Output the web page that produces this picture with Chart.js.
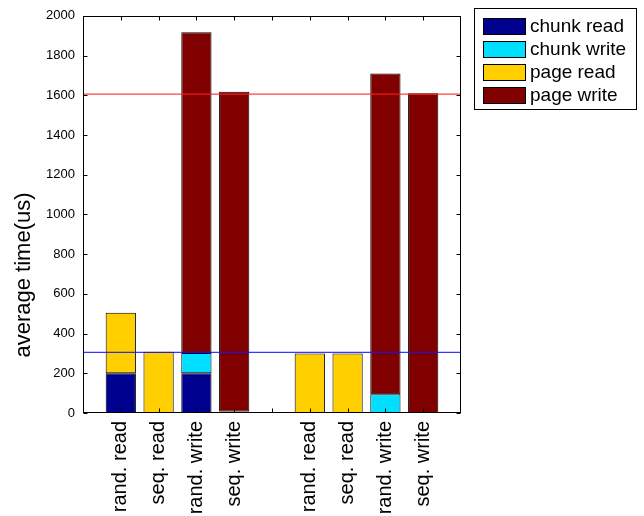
<!DOCTYPE html>
<html>
<head>
<meta charset="utf-8">
<script src="https://cdn.jsdelivr.net/npm/chart.js@4/dist/chart.umd.min.js"></script>
<style>
  html, body { margin: 0; padding: 0; background: #fff; }
  #wrap { width: 644px; height: 516px; }
</style>
</head>
<body>
<div id="wrap"><canvas id="c" width="644" height="516"></canvas></div>
<script>
// Access-pattern labels (the fifth slot is an empty spacer between the two groups)
const categories = ['rand. read', 'seq. read', 'rand. write', 'seq. write', '',
                    'rand. read', 'seq. read', 'rand. write', 'seq. write'];

// Average time per component, in microseconds (stacked bottom to top)
const chunkRead  = [200, null, 200,  4, null, null, null, null, null];
const chunkWrite = [null, null, 102, 3, null, null, null,  95, null];
const pageRead   = [305, 309, null, null, null, 300, 300, null, null];
const pageWrite  = [null, null, 1615, 1611, null, null, null, 1614, 1610];

// Horizontal reference levels
const pageWriteLevel = 1606;
const pageReadLevel = 305;

const seriesNames = ['chunk read', 'chunk write', 'page read', 'page write'];
const seriesColors = ['#00008F', '#00DFFF', '#FFCF00', '#800000'];
const seriesValues = [chunkRead, chunkWrite, pageRead, pageWrite];

const yTicks = [0, 200, 400, 600, 800, 1000, 1200, 1400, 1600, 1800, 2000];

const FONT = '"Liberation Sans", Arial, Helvetica, sans-serif';
Chart.defaults.color = '#000';
Chart.defaults.font.family = FONT;

const barSets = seriesValues.map((vals, s) => ({
  type: 'bar',
  label: seriesNames[s],
  data: vals.map((v, i) => ({ x: i + 1, y: v })),
  backgroundColor: seriesColors[s],
  borderColor: '#000',
  borderWidth: 1,
  borderSkipped: false,
  barPercentage: 0.8,
  categoryPercentage: 1.0,
  stack: 'time'
}));

const xMax = categories.length + 1;
const levelLine = (val, color, id) => ({
  type: 'line',
  label: id,
  data: [{ x: 0, y: val }, { x: xMax, y: val }],
  borderColor: color,
  borderWidth: 1.2,
  pointRadius: 0,
  fill: false,
  stack: id,
  order: -1
});

// Frame, inward tick marks, y-axis title and the boxed legend
const decor = {
  id: 'decor',
  afterDraw(chart) {
    const { ctx, chartArea: a, scales: { x, y } } = chart;
    ctx.save();
    ctx.strokeStyle = '#000';
    ctx.lineWidth = 1;
    ctx.beginPath();
    const L = Math.round(a.left) + 0.5, R = Math.round(a.right) - 0.5;
    const T = Math.round(a.top) + 0.5, B = Math.round(a.bottom) - 0.5;
    y.ticks.forEach(t => {
      const py = Math.round(y.getPixelForValue(t.value)) + 0.5;
      ctx.moveTo(L, py); ctx.lineTo(L + 4, py);
      ctx.moveTo(R, py); ctx.lineTo(R - 4, py);
    });
    x.ticks.forEach(t => {
      const px = Math.round(x.getPixelForValue(t.value)) + 0.5;
      ctx.moveTo(px, B); ctx.lineTo(px, B - 4);
      ctx.moveTo(px, T); ctx.lineTo(px, T + 4);
    });
    ctx.stroke();
    ctx.strokeRect(L, T, R - L, B - T);

    // y-axis title
    ctx.fillStyle = '#000';
    ctx.font = '22px ' + FONT;
    ctx.textAlign = 'center';
    ctx.textBaseline = 'middle';
    ctx.translate(24, 275);
    ctx.rotate(-Math.PI / 2);
    ctx.fillText('average time(us)', 0, 0);
    ctx.restore();

    // legend
    ctx.save();
    ctx.fillStyle = '#fff';
    ctx.fillRect(474.5, 8.5, 162, 101);
    ctx.strokeStyle = '#000';
    ctx.lineWidth = 1;
    ctx.strokeRect(474.5, 8.5, 162, 101);
    ctx.font = '19px ' + FONT;
    ctx.textAlign = 'left';
    ctx.textBaseline = 'middle';
    chart.data.datasets.filter(d => d.type === 'bar').forEach((d, i) => {
      const top = 18 + 23 * i;
      ctx.fillStyle = d.backgroundColor;
      ctx.fillRect(483.5, top + 0.5, 42, 16);
      ctx.strokeRect(483.5, top + 0.5, 42, 16);
      ctx.fillStyle = '#000';
      ctx.fillText(d.label, 530, top + 9);
    });
    ctx.restore();
  }
};

new Chart(document.getElementById('c'), {
  data: {
    datasets: [
      levelLine(pageWriteLevel, 'rgba(255,30,30,0.85)', 'ref-write'),
      levelLine(pageReadLevel, 'rgba(20,20,255,0.85)', 'ref-read'),
      ...barSets
    ]
  },
  options: {
    responsive: false,
    animation: false,
    layout: { padding: { top: 11, right: 183, bottom: 0, left: 0 } },
    plugins: {
      legend: { display: false },
      tooltip: { enabled: false }
    },
    scales: {
      x: {
        type: 'linear',
        min: 0,
        max: xMax,
        offset: false,
        stacked: true,
        grid: { display: false, drawTicks: false, offset: false },
        border: { display: false },
        afterBuildTicks: s => { s.ticks = categories.map((_, i) => ({ value: i + 1 })); },
        afterFit: s => { s.height = 103; },
        ticks: {
          autoSkip: false,
          minRotation: 90,
          maxRotation: 90,
          padding: 8,
          font: { size: 20 },
          callback: v => categories[v - 1]
        }
      },
      y: {
        type: 'linear',
        min: 0,
        max: 2000,
        stacked: true,
        grid: { display: false, drawTicks: false },
        border: { display: false },
        afterBuildTicks: s => { s.ticks = yTicks.map(v => ({ value: v })); },
        afterFit: s => { s.width = 83; },
        ticks: { padding: 8, font: { size: 13 }, callback: v => String(v) }
      }
    }
  },
  plugins: [decor]
});
</script>
</body>
</html>
